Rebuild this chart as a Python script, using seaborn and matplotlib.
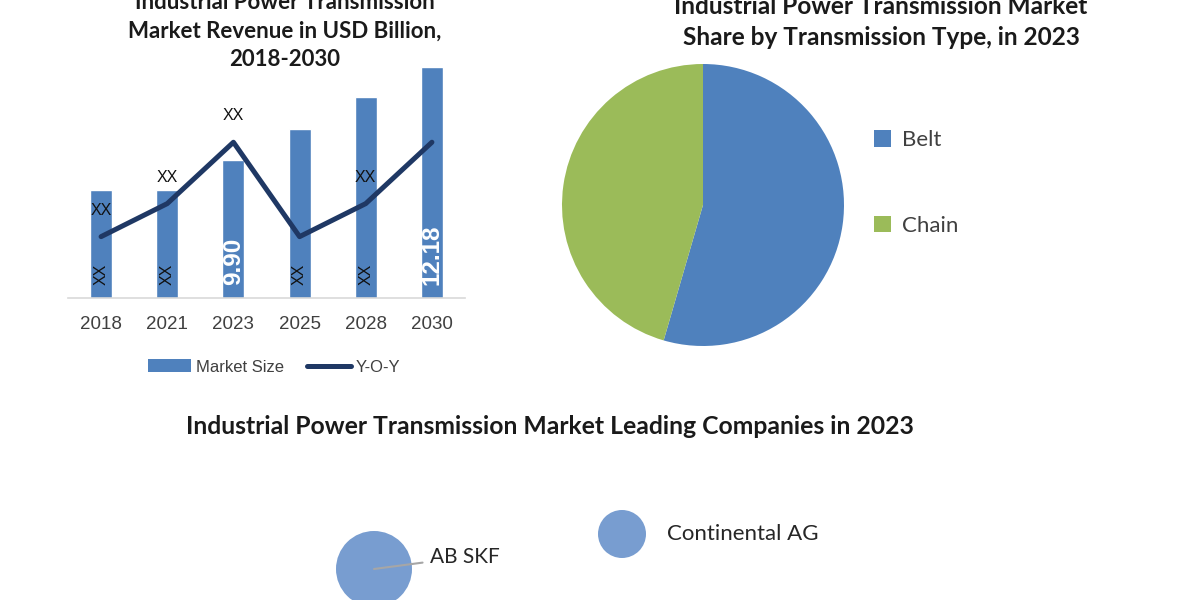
import numpy as np
import pandas as pd
import matplotlib
matplotlib.use("Agg")
import matplotlib.pyplot as plt
import seaborn as sns
from matplotlib.patches import Patch
from matplotlib.lines import Line2D

# ---------------- data ----------------
years = ["2018", "2021", "2023", "2025", "2028", "2030"]
market_size = [9.17, 9.17, 9.90, 10.66, 11.45, 12.18]
yoy = [2.6, 4.0, 6.6, 2.6, 4.0, 6.6]
bar_labels = ["XX", "XX", "9.90", "XX", "XX", "12.18"]
yoy_labels = ["XX", "XX", "XX", "", "XX", ""]

types = ["Belt", "Chain"]
type_share = [54.5, 45.5]

companies = ["AB SKF", "Continental AG"]
company_x = [3.74, 6.22]
company_y = [0.31, 0.66]
company_share = [10.0, 4.0]

BAR_BLUE = "#4F81BD"
NAVY = "#1F3864"
GREEN = "#9BBB59"
BUBBLE = "#789DD0"

sns.set_theme(style="white")
plt.rcParams['font.family'] = ['Liberation Sans', 'DejaVu Sans']
TITLE_FONT = ['Lato', 'DejaVu Sans']

fig = plt.figure(figsize=(12, 6), dpi=100)
fig.patch.set_facecolor("white")

# ---------------- bar + line chart ----------------
ax = fig.add_axes([68 / 1200, 1 - 298 / 600, 397 / 1200, 236 / 600])
df = pd.DataFrame({"Year": years, "Market Size": market_size, "YoY": yoy})
sns.barplot(data=df, x="Year", y="Market Size", color=BAR_BLUE, width=0.33,
            saturation=1, ax=ax)
ymin = 6.52
ax.set_xlim(-0.5, len(years) - 0.5)
ax.set_ylim(ymin, 12.31)
ax.set_xlabel("")
ax.set_ylabel("")
ax.set_yticks([])
for s in ["top", "right", "left"]:
    ax.spines[s].set_visible(False)
ax.spines["bottom"].set_color("#D9D9D9")
ax.spines["bottom"].set_linewidth(1.2)
ax.tick_params(axis="x", length=0, labelsize=13.5, labelcolor="#404040", pad=13)
ax.set_facecolor("none")

for i, lab in enumerate(bar_labels):
    if lab == "XX":
        ax.annotate(lab, (i, ymin), xytext=(0, 9.4), textcoords="offset points",
                    rotation=90, ha="center", va="bottom", fontsize=11.5, color="#111111")
    else:
        ax.annotate(lab, (i, ymin), xytext=(0, 9.4), textcoords="offset points",
                    rotation=90, ha="center", va="bottom", fontsize=17.5,
                    fontweight="bold", color="white")

ax2 = ax.twinx()
sns.lineplot(x=np.arange(len(years)), y=yoy, ax=ax2, color=NAVY, lw=3.6)
ax2.set_ylim(0, 10)
ax2.set_yticks([])
ax2.set_ylabel("")
for s in ax2.spines.values():
    s.set_visible(False)
for i, (v, lab) in enumerate(zip(yoy, yoy_labels)):
    if lab:
        ax2.annotate(lab, (i, v), xytext=(0, 19), textcoords="offset points",
                     ha="center", va="center", fontsize=11.5, color="#111111")

fig.text(285 / 1200, 1 - 31 / 600,
         "Industrial Power Transmission\nMarket Revenue in USD Billion,\n2018-2030",
         ha="center", va="center", fontsize=16, fontweight="bold",
         family=TITLE_FONT, color="#1a1a1a", linespacing=1.42)

fig.legend(handles=[Patch(facecolor=BAR_BLUE, edgecolor="none"),
                    Line2D([0], [0], color=NAVY, lw=3.6)],
           labels=["Market Size", "Y-O-Y"], loc="center",
           bbox_to_anchor=(274 / 1200, 1 - 367 / 600), ncol=2, frameon=False,
           fontsize=12, handlelength=2.6, handleheight=0.8, handletextpad=0.3,
           columnspacing=1.4, labelcolor="#404040")

# ---------------- pie chart ----------------
cx, cy, r = 703, 205, 141
axp = fig.add_axes([(cx - r) / 1200, (600 - cy - r) / 600, 2 * r / 1200, 2 * r / 600])
wedges, _ = axp.pie(type_share, colors=[BAR_BLUE, GREEN], startangle=90,
                    counterclock=False, radius=1, wedgeprops=dict(linewidth=0))
axp.set_xlim(-1, 1)
axp.set_ylim(-1, 1)

fig.text(881 / 1200, 1 - 22 / 600,
         "Industrial Power Transmission Market\nShare by Transmission Type, in 2023",
         ha="center", va="center", fontsize=17.6, fontweight="bold",
         family=TITLE_FONT, color="#1a1a1a", linespacing=1.38)

fig.legend(wedges, types, loc="center left", bbox_to_anchor=(874 / 1200, 1 - 183 / 600),
           frameon=False, handlelength=0.75, handleheight=0.75,
           handletextpad=0.5, labelspacing=2.95, borderpad=0, borderaxespad=0,
           prop={"family": TITLE_FONT, "size": 16}, labelcolor="#404040")

# ---------------- bubble chart ----------------
fig.text(550 / 1200, 1 - 427 / 600,
         "Industrial Power Transmission Market Leading Companies in 2023",
         ha="center", va="center", fontsize=17.8, fontweight="bold",
         family=TITLE_FONT, color="#1a1a1a")

ax3 = fig.add_axes([0, 0, 1, 0.25])
sns.scatterplot(x=company_x, y=company_y, size=company_share, sizes=(1195, 2995),
                color=BUBBLE, legend=False, ax=ax3, linewidth=0, clip_on=False)
ax3.set_xlim(0, 12)
ax3.set_ylim(0, 1.5)
ax3.axis("off")
ax3.annotate(companies[0], (company_x[0], company_y[0]), xytext=(40.3, 8.6),
             textcoords="offset points", ha="left", va="center", fontsize=15,
             family=TITLE_FONT, color="#262626",
             arrowprops=dict(arrowstyle="-", color="#A6A6A6", lw=1.5, shrinkA=3, shrinkB=0))
ax3.annotate(companies[1], (company_x[1], company_y[1]), xytext=(32.4, 0),
             textcoords="offset points", ha="left", va="center", fontsize=16,
             family=TITLE_FONT, color="#262626")

fig.savefig("out.png", dpi=100, facecolor="white")
